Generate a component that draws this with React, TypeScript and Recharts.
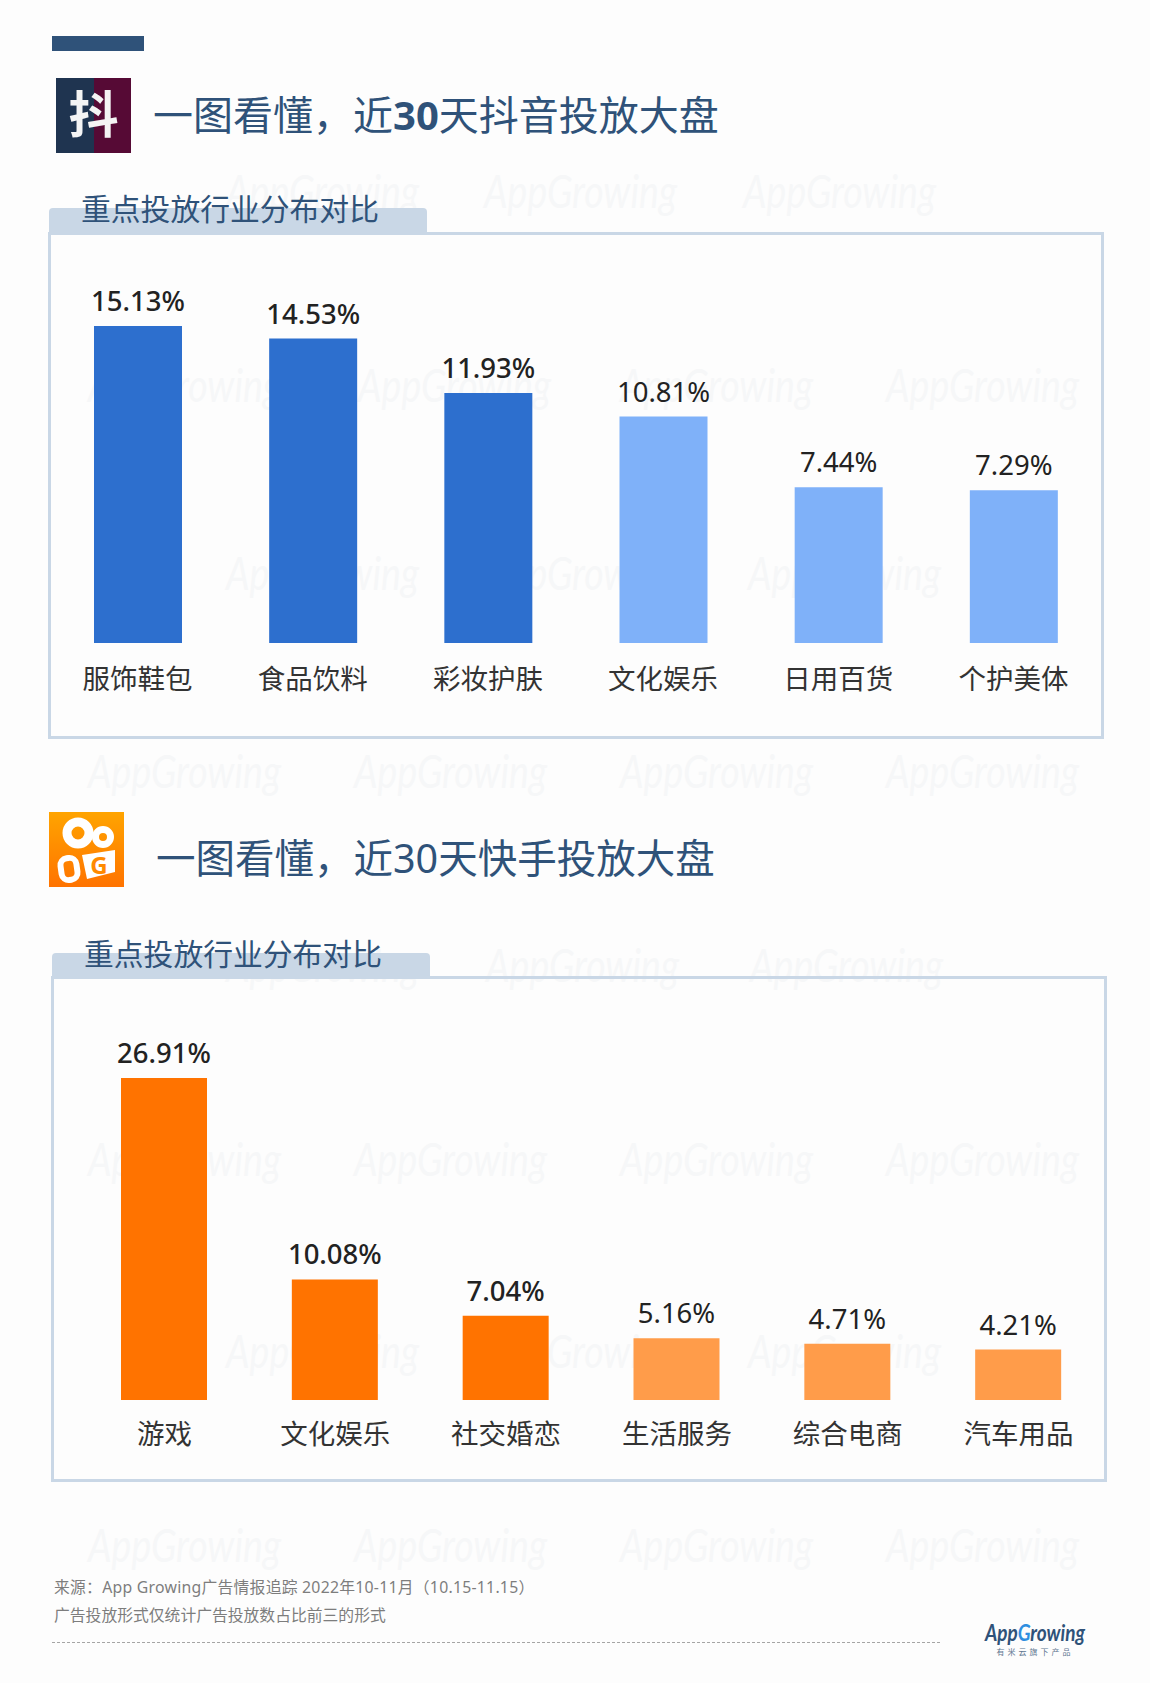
import React from 'react'
import { BarChart, Bar, XAxis, YAxis, Cell, LabelList } from 'recharts'

const douyinCategories = ['服饰鞋包', '食品饮料', '彩妆护肤', '文化娱乐', '日用百货', '个护美体']
const douyinValues = [15.13, 14.53, 11.93, 10.81, 7.44, 7.29]
const kuaishouCategories = ['游戏', '文化娱乐', '社交婚恋', '生活服务', '综合电商', '汽车用品']
const kuaishouValues = [26.91, 10.08, 7.04, 5.16, 4.71, 4.21]

const sans = '"Noto Sans", "Noto Sans CJK SC", sans-serif'
const navy = '#2f5279'
const frame = '#c9d7e6'

// [x, baseline y] of the faint AppGrowing stamps
const stamps = [
  [226, 208], [484, 208], [743, 208],
  [88, 402], [358, 402], [620, 402], [886, 402],
  [226, 590], [484, 590], [748, 590],
  [88, 788], [354, 788], [620, 788], [886, 788],
  [226, 982], [486, 982], [750, 982],
  [88, 1176], [354, 1176], [620, 1176], [886, 1176],
  [226, 1368], [484, 1368], [748, 1368],
  [88, 1562], [354, 1562], [620, 1562], [886, 1562]
]

const ValueLabel = ({ x, y, width, value, index }: any) => {
  return (
    <text
      x={x + width / 2}
      y={y - 15}
      textAnchor="middle"
      fontFamily={sans}
      fontSize={27.5}
      fontWeight={index < 3 ? 500 : 400}
      fill="#222222"
    >
      {Number(value).toFixed(2)}%
    </text>
  )
}

interface PanelChartProps {
  categories: string[];
  values: number[];
  left: number;
  top: number;
  width: number;
  plotHeight: number;
  max: number;
  barSize: number;
  colors: string[];
  strongCount: number;
  tickMargin: number;
}

const PanelChart = ({ categories, values, left, top, width, plotHeight, max, barSize, colors, strongCount, tickMargin }: PanelChartProps) => {
  const rows = categories.map((name, i) => ({ name, value: values[i] }))
  return (
    <div style={{ position: 'absolute', left, top }}>
      <BarChart width={width} height={plotHeight + 60} data={rows} margin={{ top: 0, right: 0, bottom: 0, left: 0 }}>
        <XAxis
          dataKey="name"
          height={60}
          interval={0}
          axisLine={false}
          tickLine={false}
          tickMargin={tickMargin}
          tick={{ fontSize: 27.5, fill: '#333333', fontFamily: sans }}
        />
        <YAxis hide domain={[0, max]} />
        <Bar dataKey="value" barSize={barSize} isAnimationActive={false}>
          {rows.map((row, i) => (
            <Cell key={row.name} fill={i < strongCount ? colors[0] : colors[1]} />
          ))}
          <LabelList dataKey="value" content={ValueLabel} />
        </Bar>
      </BarChart>
    </div>
  )
}

const Title = ({ x, y, size, children }: any) => (
  <div style={{ position: 'absolute', left: x, top: y, lineHeight: '50px', height: 50, fontSize: size, color: navy, fontFamily: sans, whiteSpace: 'nowrap' }}>
    {children}
  </div>
)

const Tab = ({ x, y }: any) => (
  <>
    <div style={{ position: 'absolute', left: x, top: y, width: 378, height: 25, background: frame, borderRadius: '4px 4px 0 0' }} />
    <div style={{ position: 'absolute', left: x + 32, top: y - 19, lineHeight: '40px', fontSize: 29.8, color: navy, fontFamily: sans, whiteSpace: 'nowrap' }}>
      重点投放行业分布对比
    </div>
  </>
)

const DouyinIcon = () => (
  <svg style={{ position: 'absolute', left: 56, top: 78 }} width={75} height={75}>
    <rect width={38} height={75} fill="#1f3450" />
    <rect x={38} width={37} height={75} fill="#560a35" />
    <text x={37.5} y={55} textAnchor="middle" fontFamily={sans} fontWeight={700} fontSize={50} fill="#f4f4f4">抖</text>
  </svg>
)

const KuaishouIcon = () => (
  <svg style={{ position: 'absolute', left: 49, top: 812 }} width={75} height={75}>
    <defs>
      <linearGradient id="ks" x1="0" y1="0" x2="0" y2="1">
        <stop offset="0%" stopColor="#ffa400" />
        <stop offset="100%" stopColor="#ff7300" />
      </linearGradient>
    </defs>
    <rect width={75} height={75} fill="url(#ks)" />
    <circle cx={29} cy={21} r={11} fill="none" stroke="#fff" strokeWidth={9} />
    <circle cx={54} cy={25} r={7.5} fill="none" stroke="#fff" strokeWidth={7} />
    <rect x={12} y={46} width={16} height={22} rx={7} fill="none" stroke="#fff" strokeWidth={6} transform="rotate(-8 20 57)" />
    <path d="M33 43 L66 38 L66 60 L38 67 Z" fill="#fff" />
    <text x={50} y={62} textAnchor="middle" fontFamily={sans} fontWeight={700} fontSize={24} fill="#ff8a00">G</text>
  </svg>
)

export default function App() {
  return (
    <div style={{ position: 'absolute', left: 0, top: 0, width: 1150, height: 1683, background: '#fdfdfd', overflow: 'hidden' }}>
      <svg style={{ position: 'absolute', left: 0, top: 0 }} width={1150} height={1683}>
        {stamps.map(([x, y], i) => (
          <text key={i} x={x} y={y} fontFamily="Lato, sans-serif" fontStyle="italic" fontSize={46} textLength={193} lengthAdjust="spacingAndGlyphs" fill="#f6f7f8">
            AppGrowing
          </text>
        ))}
      </svg>

      <div style={{ position: 'absolute', left: 52, top: 36, width: 92, height: 15, background: navy }} />

      <DouyinIcon />
      <Title x={153} y={90} size={40}>
        一图看懂，近<span style={{ fontWeight: 700 }}>30</span>天抖音投放大盘
      </Title>
      <Tab x={49} y={208} />
      <div style={{ position: 'absolute', left: 48, top: 232, width: 1050, height: 501, border: `3px solid ${frame}` }} />
      <PanelChart
        categories={douyinCategories}
        values={douyinValues}
        left={50}
        top={224}
        width={1051}
        plotHeight={419}
        max={20}
        barSize={88}
        colors={['#2d6fce', '#7fb1f9']}
        strongCount={3}
        tickMargin={20}
      />

      <KuaishouIcon />
      <Title x={156} y={833} size={39.5}>一图看懂，近30天快手投放大盘</Title>
      <Tab x={52} y={953} />
      <div style={{ position: 'absolute', left: 51, top: 976, width: 1050, height: 500, border: `3px solid ${frame}` }} />
      <PanelChart
        categories={kuaishouCategories}
        values={kuaishouValues}
        left={79}
        top={1040.5}
        width={1025}
        plotHeight={359}
        max={30}
        barSize={86}
        colors={['#ff7300', '#ff9c4a']}
        strongCount={3}
        tickMargin={18}
      />

      <div style={{ position: 'absolute', left: 54, top: 1576, lineHeight: '22px', fontSize: 15.8, letterSpacing: 0.25, color: '#7d7d7d', fontFamily: sans, whiteSpace: 'nowrap' }}>
        来源：App Growing广告情报追踪 2022年10-11月（10.15-11.15）
      </div>
      <div style={{ position: 'absolute', left: 54, top: 1604, lineHeight: '22px', fontSize: 15.8, color: '#7d7d7d', fontFamily: sans, whiteSpace: 'nowrap' }}>
        广告投放形式仅统计广告投放数占比前三的形式
      </div>
      <div style={{ position: 'absolute', left: 52, top: 1642, width: 888, borderTop: '1px dashed #a5a5a5' }} />

      <svg style={{ position: 'absolute', left: 980, top: 1618 }} width={110} height={44}>
        <text x={5} y={23} fontFamily="Lato, sans-serif" fontStyle="italic" fontWeight={700} fontSize={23} textLength={100} lengthAdjust="spacingAndGlyphs" fill="#2f5279">
          App<tspan fill="#2f8fe0">G</tspan>rowing
        </text>
        <text x={55} y={37} textAnchor="middle" fontFamily={sans} fontSize={8} letterSpacing={3} fill="#5d7590">有米云旗下产品</text>
      </svg>
    </div>
  )
}
